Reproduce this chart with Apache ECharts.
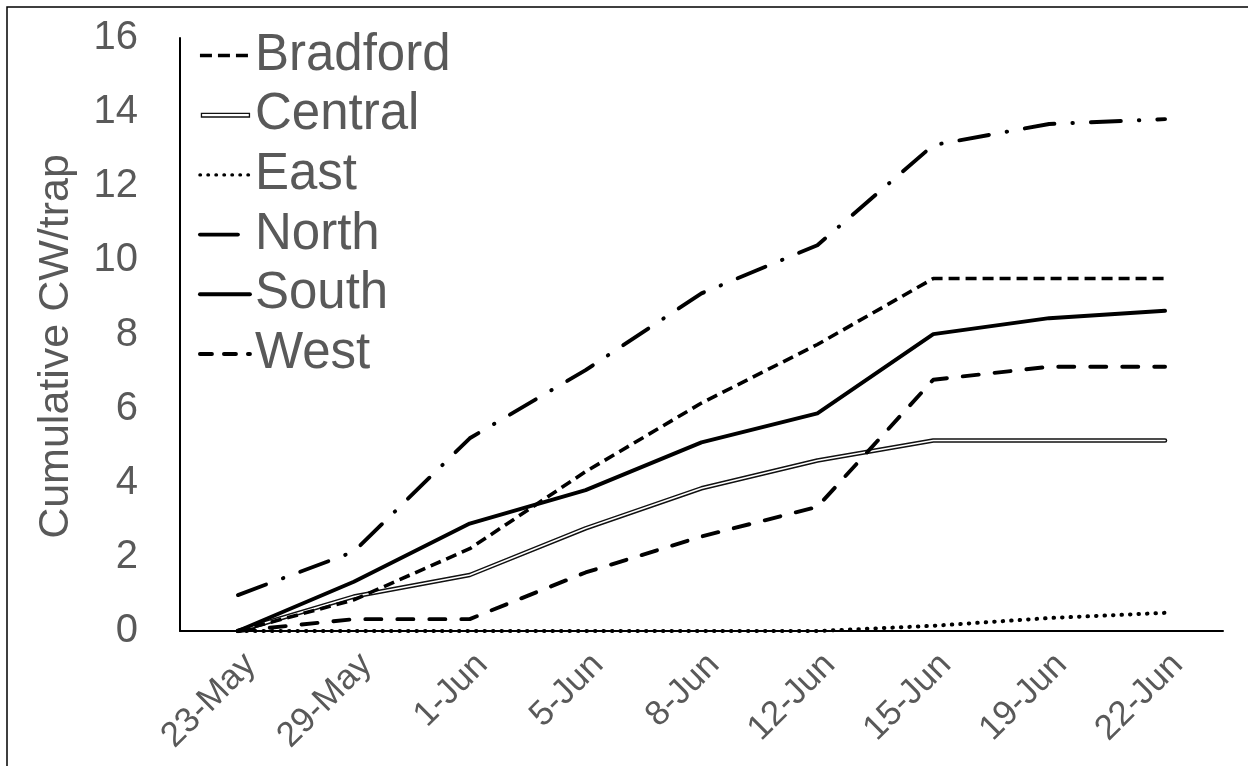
<!DOCTYPE html>
<html>
<head>
<meta charset="utf-8">
<script src="https://cdn.jsdelivr.net/npm/echarts@6/dist/echarts.min.js"></script>
<style>
  html, body { margin: 0; padding: 0; background: #fff; }
  #chart { width: 1248px; height: 766px; }
</style>
</head>
<body>
<div id="chart"></div>
<script>
// Sampling dates (category axis)
const categories = ['23-May', '29-May', '1-Jun', '5-Jun', '8-Jun', '12-Jun', '15-Jun', '19-Jun', '22-Jun'];

// Cumulative CW per trap, by site
const bradford = [0, 0.84, 2.22, 4.3, 6.15, 7.73, 9.51, 9.51, 9.51];
const central  = [0, 0.93, 1.51, 2.77, 3.85, 4.6, 5.14, 5.14, 5.14];
const east     = [0, 0, 0, 0, 0, 0, 0.14, 0.35, 0.49];
const north    = [0.97, 2.14, 5.2, 7.04, 9.11, 10.41, 13.11, 13.68, 13.81];
const south    = [0, 1.33, 2.9, 3.8, 5.09, 5.87, 8.01, 8.44, 8.64];
const west     = [0, 0.32, 0.32, 1.58, 2.55, 3.35, 6.78, 7.13, 7.13];

// Value axis range
const yMin = 0;
const yMax = 16;
const yStep = 2;

const FONT = 'Liberation Sans, Arial, sans-serif';
const GREY = '#595959';

// Line styles per site
const styles = {
  Bradford: { width: 3.6, type: [11, 6], cap: 'butt' },
  East:     { width: 4.0, type: [0.5, 8], cap: 'round' },
  North:    { width: 3.9, type: [30, 18, 0.5, 18], cap: 'round' },
  South:    { width: 3.9, type: 'solid', cap: 'round' },
  West:     { width: 3.9, type: [16, 16], cap: 'round' }
};

// Legend samples (short strokes beside each name)
const legendStyles = {
  Bradford: { width: 3.6, type: [12, 6], cap: 'butt' },
  East:     { width: 3.4, type: [0.5, 7.5], cap: 'round' },
  North:    { width: 3.9, type: [38, 40], cap: 'round' },
  South:    { width: 3.9, type: 'solid', cap: 'round' },
  West:     { width: 3.9, type: [12, 12], cap: 'round' }
};

const hiddenMarker = { color: 'rgba(0,0,0,0)', borderWidth: 0, opacity: 0 };

function lineSeries(name, data, style, z) {
  return {
    name: name,
    type: 'line',
    data: data,
    symbol: 'none',
    silent: true,
    color: '#000',
    z: z,
    lineStyle: Object.assign({ color: '#000', join: 'round' }, style)
  };
}

function legendItem(name) {
  return {
    name: name,
    itemStyle: hiddenMarker,
    lineStyle: Object.assign({ color: '#000', opacity: 1 }, legendStyles[name])
  };
}

const chart = echarts.init(document.getElementById('chart'), null, { renderer: 'canvas' });

chart.setOption({
  animation: false,
  backgroundColor: '#fff',
  textStyle: { fontFamily: FONT },
  graphic: [{
    type: 'rect',
    shape: { x: 7, y: 7, width: 1300, height: 800 },
    style: { fill: 'none', stroke: '#000', lineWidth: 1.5 },
    silent: true,
    z: 100
  }],
  grid: { left: 180, top: 38, right: 25, bottom: 135, containLabel: false },
  legend: {
    orient: 'vertical',
    left: 198,
    top: 30,
    padding: 0,
    itemWidth: 50,
    itemHeight: 20,
    itemGap: 8.7,
    selectedMode: false,
    textStyle: { fontSize: 51, color: GREY, fontFamily: FONT },
    data: [
      legendItem('Bradford'),
      {
        name: 'Central',
        icon: 'path://M0,0M0,20M1,8.2L49,8.2L49,11.8L1,11.8Z',
        itemStyle: { color: '#fff', borderColor: '#111', borderWidth: 1.3 }
      },
      legendItem('East'),
      legendItem('North'),
      legendItem('South'),
      legendItem('West')
    ]
  },
  xAxis: {
    type: 'category',
    data: categories,
    boundaryGap: true,
    axisLine: { show: true, lineStyle: { color: '#000', width: 2 } },
    axisTick: { show: false },
    axisLabel: {
      rotate: 45,
      margin: 16,
      fontSize: 35,
      color: GREY,
      fontFamily: FONT,
      verticalAlign: 'top',
      interval: 0
    },
    splitLine: { show: false }
  },
  yAxis: {
    type: 'value',
    min: yMin,
    max: yMax,
    interval: yStep,
    name: 'Cumulative CW/trap',
    nameLocation: 'middle',
    nameGap: 102,
    nameTextStyle: { fontSize: 43, color: GREY, fontFamily: FONT, padding: [0, 24, 0, 0] },
    axisLine: { show: true, lineStyle: { color: '#000', width: 2 } },
    axisTick: { show: false },
    axisLabel: { margin: 42, fontSize: 40, color: GREY, fontFamily: FONT },
    splitLine: { show: false }
  },
  series: [
    lineSeries('Bradford', bradford, styles.Bradford, 3),
    // Central is drawn as a double line: dark outer stroke with a white core
    {
      name: 'Central',
      type: 'line',
      data: central,
      symbol: 'none',
      silent: true,
      color: '#111',
      z: 2,
      lineStyle: { color: '#111', width: 4.5, cap: 'round', join: 'round' }
    },
    {
      name: 'Central core',
      type: 'line',
      data: central,
      symbol: 'none',
      silent: true,
      color: '#fff',
      z: 2,
      lineStyle: { color: '#fff', width: 1.6, cap: 'round', join: 'round' }
    },
    lineSeries('East', east, styles.East, 3),
    lineSeries('North', north, styles.North, 3),
    lineSeries('South', south, styles.South, 3),
    lineSeries('West', west, styles.West, 3)
  ]
});
</script>
</body>
</html>
